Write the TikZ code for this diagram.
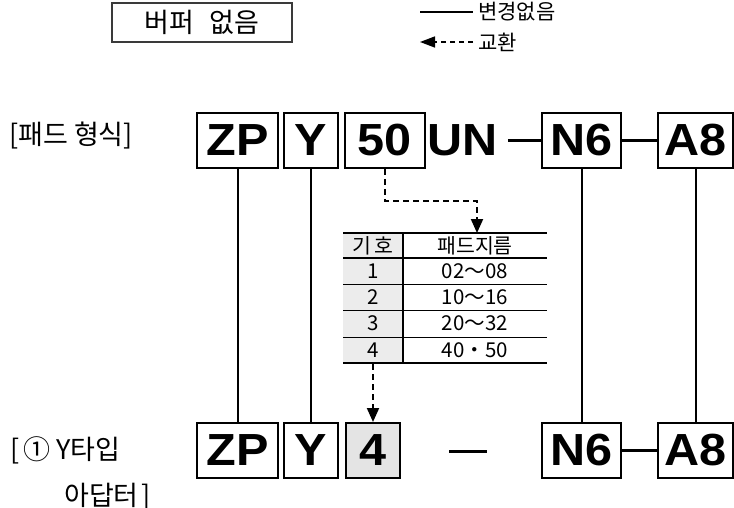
\documentclass[tikz,border=0pt]{standalone}
\usepackage{fontspec}
\setmainfont{Noto Sans CJK KR}
\newfontfamily\codefont{Liberation Sans}[FakeStretch=1.08]
\usetikzlibrary{arrows.meta,positioning}
\definecolor{cellgray}{HTML}{ECECEC}
\definecolor{fillgray}{HTML}{E4E4E4}
\definecolor{framegray}{HTML}{3A3A3A}

\begin{document}
\begin{tikzpicture}[x=1pt, y=-1pt,
      code/.style={font=\codefont\bfseries\fontsize{45}{45}\selectfont, inner sep=0pt},
      codebox/.style={code, draw, line width=2pt, minimum height=55pt, fill=white},
      lbl/.style={font=\fontsize{27}{30}\selectfont, inner sep=0pt, anchor=west},
      keytxt/.style={font=\fontsize{21}{23}\selectfont, inner xsep=5pt, inner ysep=0pt, anchor=west},
      cell/.style={font=\fontsize{20.5}{22}\selectfont, inner sep=0pt},
      vline/.style={line width=2pt},
      link/.style={line width=3pt},
      rule/.style={line width=1.2pt},
      swaparr/.style={-{Triangle[length=14pt,width=12pt]}, line width=2pt, dash pattern=on 6pt off 4pt},
      keyarr/.style={-{Triangle[length=15pt,width=11pt]}, line width=1.5pt, dash pattern=on 5pt off 4pt}
    ]
      \useasboundingbox (0,0) rectangle (734,508);

      \node[draw=framegray, line width=1.5pt, minimum width=180pt, minimum height=39pt,
            font=\fontsize{27}{29}\selectfont] (nobuf) at (202,22.5) {버퍼\hspace{15pt}없음};
      \node[keytxt] (keep) at (473,12) {변경없음};
      \node[keytxt] (swap) at (473,42) {교환};
      \coordinate (keyA) at (420,12);
      \coordinate (keyB) at (420,42);
      \draw[line width=2pt] (keyA) -- (keep.west);
      \draw[keyarr] (swap.west) -- (keyB);

      \node[lbl] (padtype) at (9,136) {[패드 형식]};
      \node[codebox, minimum width=81pt] (zp) at (237.5,140.5) {ZP};
      \node[codebox, minimum width=54pt] (y) at (311,140.5) {Y};
      \node[codebox, minimum width=80pt] (d50) at (385,140.5) {50};
      \node[code, inner xsep=10pt] (un) at (462.5,140.5) {UN};
      \node[codebox, minimum width=79pt] (n6) at (581.5,140.5) {N6};
      \node[codebox, minimum width=75pt] (a8) at (695.5,140.5) {A8};
      \draw[link] (un.east) -- (n6.west);
      \draw[link] (n6.east) -- (a8.west);

      \fill[cellgray] (343,233) rectangle (403,363);
      \draw[line width=2pt] (343,233) -- (547,233);
      \draw[rule] (343,258) -- (547,258);
      \draw[line width=0.8pt] (343,284) -- (547,284) (343,310) -- (547,310) (343,337) -- (547,337);
      \draw[rule] (343,363) -- (547,363);
      \draw[rule] (403,233) -- (403,363);
      \node[cell] (hsym) at (373,246) {기\,호};
      \node[cell] (hdia) at (475,246) {패드지름};
      \node[cell] (s1) at (373,271) {1};
      \node[cell] (v1) at (475,271) {02～08};
      \node[cell] (s2) at (373,297) {2};
      \node[cell] (v2) at (475,297) {10～16};
      \node[cell] (s3) at (373,323.5) {3};
      \node[cell] (v3) at (475,323.5) {20～32};
      \node[cell] (s4) at (373,350) {4};
      \node[cell] (v4) at (475,350) {40・50};

      \node[lbl] (adapt) at (10,450) {[\hspace{4pt}①\hspace{6pt}Y타입};
      \node[lbl] (adapt2) at (64,497) {아답터\hspace{3pt}]};
      \node[codebox, minimum width=81pt] (zpb) at (237.5,450.5) {ZP};
      \node[codebox, minimum width=54pt] (yb) at (311,450.5) {Y};
      \node[codebox, minimum width=54pt, fill=fillgray] (d4) at (373,450.5) {4};
      \coordinate (dashl) at (449,451);
      \coordinate (dashr) at (487,451);
      \node[codebox, minimum width=79pt] (n6b) at (581.5,450.5) {N6};
      \node[codebox, minimum width=75pt] (a8b) at (695.5,450.5) {A8};
      \draw[link] (dashl) -- (dashr);
      \draw[link] (n6b.east) -- (a8b.west);

      \draw[vline] (zp.south) -- (zpb.north);
      \draw[vline] (y.south) -- (yb.north);
      \draw[vline] (n6.south) -- (n6b.north);
      \draw[vline] (a8.south) -- (a8b.north);

      \coordinate (tbltop) at (477,233);
      \coordinate (tblbot) at (373,364);
      \draw[swaparr] (d50.south) -- ++(0,32) -| (tbltop);
      \draw[swaparr] (tblbot) -- (d4.north);
    \end{tikzpicture}
\end{document}
